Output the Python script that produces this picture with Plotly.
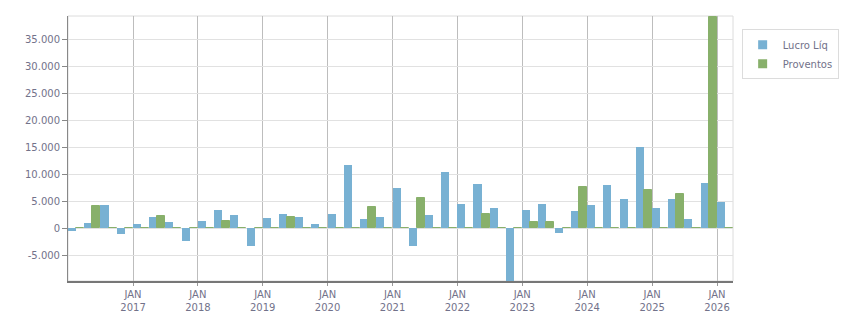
import plotly.graph_objects as go

# ---- data (quarterly, 2016Q1 .. 2026Q1) ----
quarters = [
    "2016-01-01", "2016-04-01", "2016-07-01", "2016-10-01",
    "2017-01-01", "2017-04-01", "2017-07-01", "2017-10-01",
    "2018-01-01", "2018-04-01", "2018-07-01", "2018-10-01",
    "2019-01-01", "2019-04-01", "2019-07-01", "2019-10-01",
    "2020-01-01", "2020-04-01", "2020-07-01", "2020-10-01",
    "2021-01-01", "2021-04-01", "2021-07-01", "2021-10-01",
    "2022-01-01", "2022-04-01", "2022-07-01", "2022-10-01",
    "2023-01-01", "2023-04-01", "2023-07-01", "2023-10-01",
    "2024-01-01", "2024-04-01", "2024-07-01", "2024-10-01",
    "2025-01-01", "2025-04-01", "2025-07-01", "2025-10-01",
    "2026-01-01",
]
lucro_liq = [
    -450, 1000, 4300, -1000,
    800, 2100, 1200, -2300,
    1350, 3400, 2450, -3200,
    1900, 2650, 2100, 800,
    2650, 11700, 1750, 2100,
    7450, -3200, 2450, 10400,
    4500, 8200, 3750, -9750,
    3400, 4500, -850, 3200,
    4300, 8000, 5400, 15050,
    3750, 5400, 1750, 8400,
    4900,
]
proventos = [
    0, 4100, 0, 0,
    0, 2300, 0, 0,
    0, 1350, 0, 0,
    0, 2100, 0, 0,
    0, 0, 3950, 0,
    0, 5600, 0, 0,
    0, 2650, 0, 0,
    1150, 1150, 0, 7650,
    0, 0, 0, 7100,
    0, 6350, 0, 39200,
    0,
]
y_tickvals = [-5000, 0, 5000, 10000, 15000, 20000, 25000, 30000, 35000]
y_ticktext = ["-5.000", "0", "5.000", "10.000", "15.000", "20.000", "25.000", "30.000", "35.000"]
x_tickvals = ["2017-01-01", "2018-01-01", "2019-01-01", "2020-01-01", "2021-01-01",
              "2022-01-01", "2023-01-01", "2024-01-01", "2025-01-01", "2026-01-01"]
x_ticktext = ["JAN<br>2017", "JAN<br>2018", "JAN<br>2019", "JAN<br>2020", "JAN<br>2021",
              "JAN<br>2022", "JAN<br>2023", "JAN<br>2024", "JAN<br>2025", "JAN<br>2026"]

BLUE = "#78b1d3"
GREEN = "#88b06b"
TXT = "#72728a"

fig = go.Figure()
fig.add_trace(go.Bar(
    x=quarters, y=lucro_liq, name="Lucro Líq",
    xperiod="M3", xperiodalignment="middle",
    marker=dict(color=BLUE, line=dict(width=0)),
    legendgroup="lucro", showlegend=False,
))
fig.add_trace(go.Bar(
    x=quarters, y=proventos, name="Proventos",
    xperiod="M3", xperiodalignment="middle",
    marker=dict(color=GREEN, line=dict(color=GREEN, width=1)),
    legendgroup="prov", showlegend=False,
))
# legend entries (small square swatches)
fig.add_trace(go.Scatter(x=[None], y=[None], mode="markers", name="Lucro Líq",
                         marker=dict(symbol="square", size=9, color=BLUE),
                         legendgroup="lucro"))
fig.add_trace(go.Scatter(x=[None], y=[None], mode="markers", name="Proventos",
                         marker=dict(symbol="square", size=9, color=GREEN),
                         legendgroup="prov"))

fig.update_layout(
    width=851, height=313,
    margin=dict(l=68, r=118, t=16, b=32, autoexpand=False),
    paper_bgcolor="white", plot_bgcolor="white",
    font=dict(family="DejaVu Sans", size=10, color=TXT),
    barmode="group", bargap=0, bargroupgap=0,
    legend=dict(
        x=1.013, xanchor="left", y=0.95, yanchor="top",
        bgcolor="white", bordercolor="#dcdcdc", borderwidth=1,
        font=dict(family="DejaVu Sans", size=10, color=TXT),
        itemwidth=30, tracegroupgap=0,
    ),
    shapes=[dict(type="rect", xref="paper", yref="paper", x0=0, x1=1, y0=0, y1=1,
                 line=dict(color="#dcdcdc", width=1), layer="below")],
    xaxis=dict(
        type="date", range=["2016-01-01", "2026-04-01"],
        tickmode="array", tickvals=x_tickvals, ticktext=x_ticktext,
        showgrid=True, gridcolor="#bdbdbd", gridwidth=1,
        showline=True, linecolor="#777777", linewidth=2,
        ticks="outside", ticklen=3, tickcolor="#999999",
        zeroline=False, fixedrange=True, automargin=False,
    ),
    yaxis=dict(
        range=[-9760, 39320],
        tickmode="array", tickvals=y_tickvals, ticktext=y_ticktext,
        showgrid=True, gridcolor="#e1e1e1", gridwidth=1,
        showline=True, linecolor="#888888", linewidth=1,
        ticks="outside", ticklen=5, tickcolor="#888888",
        zeroline=False, fixedrange=True, automargin=False,
    ),
)

fig.write_html("out.html")
